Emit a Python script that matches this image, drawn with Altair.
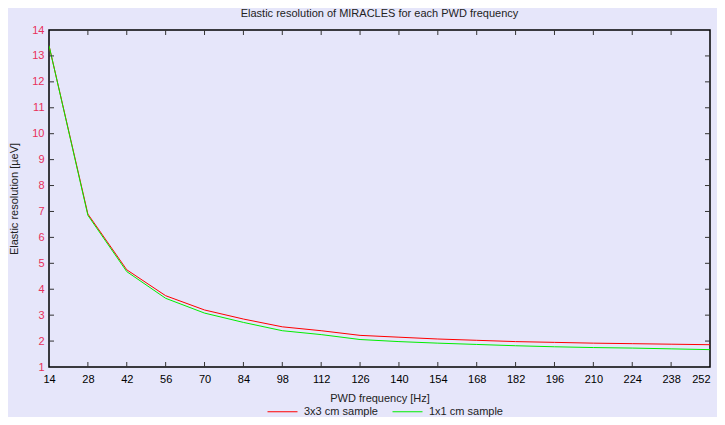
import altair as alt
import pandas as pd

freq = [14, 28, 42, 56, 70, 84, 98, 112, 126, 140, 154, 168, 182, 196, 210, 224, 238, 252]
red_3x3 = [13.4, 6.9, 4.75, 3.75, 3.2, 2.85, 2.55, 2.4, 2.22, 2.15, 2.08, 2.03, 1.98, 1.95, 1.92, 1.90, 1.88, 1.86]
green_1x1 = [13.4, 6.85, 4.68, 3.65, 3.08, 2.72, 2.4, 2.25, 2.06, 1.98, 1.92, 1.87, 1.82, 1.78, 1.75, 1.73, 1.70, 1.67]
series_names = ["3x3 cm sample", "1x1 cm sample"]
series_colors = ["#ff0000", "#00ee00"]
x_ticks = list(range(14, 253, 14))
y_ticks = list(range(1, 15))

W, H = 661, 337
FONT = "Liberation Sans"

rows = []
for f, r, g in zip(freq, red_3x3, green_1x1):
    rows.append({"freq": f, "res": r, "series": series_names[0]})
    rows.append({"freq": f, "res": g, "series": series_names[1]})
df = pd.DataFrame(rows)

xscale = alt.Scale(domain=[14, 252], nice=False, zero=False)
yscale = alt.Scale(domain=[1, 14], nice=False, zero=False)

xaxis = alt.Axis(values=x_ticks, title="PWD frequency [Hz]", tickSize=0,
                 labelPadding=6, domain=False, grid=False, labelOverlap=False,
                 labelBound=False, labelFlush=False,
                 labelAlign=alt.ExprRef(expr="datum.value >= 252 ? 'right' : 'center'"),
                 labelColor="black", titleColor="#222", titlePadding=8,
                 labelFontSize=11, titleFontSize=11, titleFontWeight="normal",
                 labelFont=FONT, titleFont=FONT)
yaxis = alt.Axis(values=y_ticks, title="Elastic resolution [µeV]", tickSize=0,
                 labelPadding=5, domain=False, grid=False, labelOverlap=False,
                 labelBound=False, labelFlush=False,
                 labelColor="#e8305a", titleColor="#222", titlePadding=12,
                 labelFontSize=11, titleFontSize=11, titleFontWeight="normal",
                 labelFont=FONT, titleFont=FONT)

lines = alt.Chart(df).mark_line(strokeWidth=1, clip=True).encode(
    x=alt.X("freq:Q", scale=xscale, axis=xaxis),
    y=alt.Y("res:Q", scale=yscale, axis=yaxis),
    color=alt.Color("series:N", scale=alt.Scale(domain=series_names, range=series_colors),
                    sort=series_names,
                    legend=alt.Legend(title=None, orient="none", direction="horizontal",
                                      legendX=218, legendY=366, symbolType="stroke",
                                      symbolSize=900, symbolStrokeWidth=1, labelFontSize=11,
                                      labelFont=FONT, labelColor="#222", columnPadding=12,
                                      labelOffset=6, padding=0)),
)

ydf = pd.DataFrame({"res": y_ticks[1:-1]})
xdf = pd.DataFrame({"freq": x_ticks[1:-1]})
tick_color = "#333333"
left_ticks = alt.Chart(ydf).mark_rule(color=tick_color, strokeWidth=1).encode(
    y=alt.Y("res:Q", scale=yscale, axis=yaxis), x=alt.value(0), x2=alt.value(5))
right_ticks = alt.Chart(ydf).mark_rule(color=tick_color, strokeWidth=1).encode(
    y=alt.Y("res:Q", scale=yscale, axis=yaxis), x=alt.value(W - 5), x2=alt.value(W))
bottom_ticks = alt.Chart(xdf).mark_rule(color=tick_color, strokeWidth=1).encode(
    x=alt.X("freq:Q", scale=xscale, axis=xaxis), y=alt.value(H - 5), y2=alt.value(H))
top_ticks = alt.Chart(xdf).mark_rule(color=tick_color, strokeWidth=1).encode(
    x=alt.X("freq:Q", scale=xscale, axis=xaxis), y=alt.value(0), y2=alt.value(5))

chart = alt.layer(lines, left_ticks, right_ticks, bottom_ticks, top_ticks).properties(
    width=W, height=H,
    title=alt.Title("Elastic resolution of MIRACLES for each PWD frequency",
                    fontSize=11, font=FONT, fontWeight="normal", color="#222", offset=5),
    autosize=alt.AutoSizeParams(type="none"),
    padding={"left": 41, "top": 22, "right": 7, "bottom": 50},
    background="#e6e6fa",
).configure_view(stroke="black", strokeWidth=1.5, fill="#e6e6fa")

chart.save("out.html", embed_options={"renderer": "svg", "actions": False})
